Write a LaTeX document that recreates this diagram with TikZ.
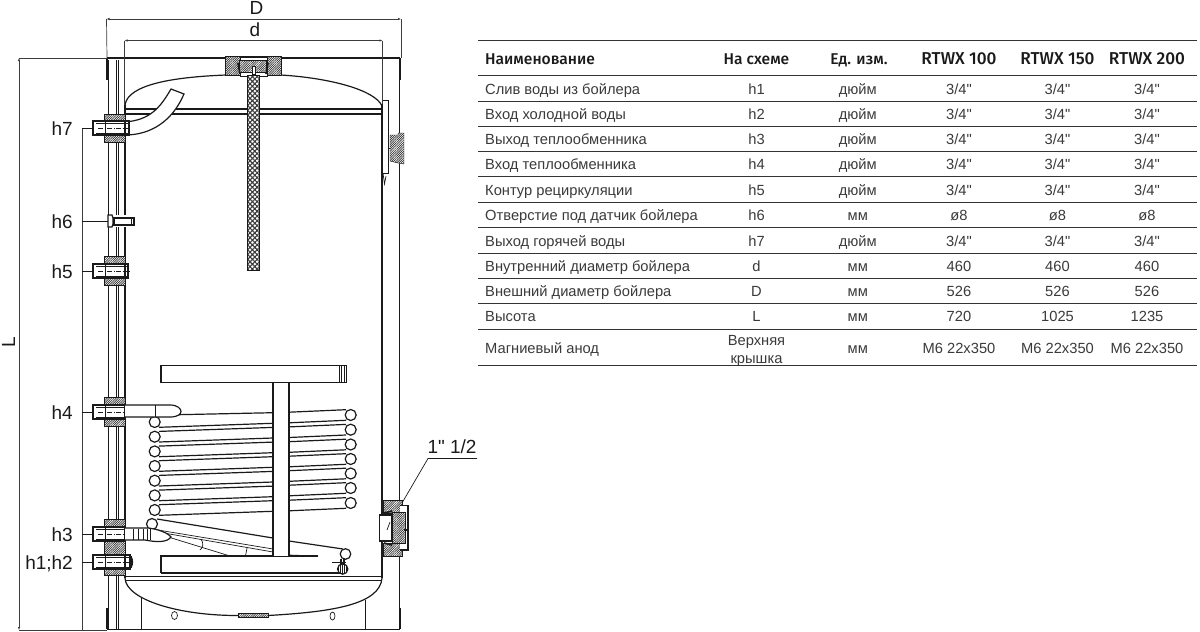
\documentclass[tikz,border=0pt]{standalone}
\usepackage{fontspec}
\newfontfamily\plainfont{Liberation Sans}
\setmainfont{Liberation Sans}
\newfontfamily\headfont{Fira Sans}[UprightFont=* Medium]
\usetikzlibrary{patterns.meta,arrows.meta}
\definecolor{ink}{HTML}{1A1A1A}
\definecolor{tabtext}{HTML}{3A3A3A}
\definecolor{rulecol}{HTML}{333333}
\tikzset{
  thinl/.style={draw=ink,line width=0.7pt},
  medl/.style={draw=ink,line width=1.2pt},
  thickl/.style={draw=ink,line width=1.7pt},
  hatchblock/.style={draw=ink,line width=0.4pt,preaction={fill=white},pattern={Lines[angle=45,distance=1.6pt,line width=0.7pt]},pattern color=ink!90},
  meshblock/.style={draw=ink,line width=0.7pt,preaction={fill=white},pattern={Hatch[angle=45,distance=3.4pt,line width=1.1pt]},pattern color=ink!85},
  whitefill/.style={fill=white,draw=ink,line width=0.9pt},
  dimline/.style={draw=ink!85,line width=0.7pt},
  dimarrow/.style={dimline,{Latex[length=3pt,width=2.4pt]}-{Latex[length=3pt,width=2.4pt]}},
  center line/.style={draw=ink,line width=0.4pt,dash pattern=on 5pt off 1.5pt on 1pt off 1.5pt},
  hlabel/.style={font=\plainfont\fontsize{19}{22}\selectfont,text=ink,anchor=base east,inner sep=0pt},
  dimlabel/.style={font=\plainfont\fontsize{19}{22}\selectfont,text=ink,inner sep=0pt},
  cell/.style={font=\plainfont\fontsize{14.7}{18}\selectfont,text=tabtext,inner sep=0pt,anchor=base},
  namecell/.style={cell,anchor=base west},
  headcell/.style={font=\headfont\fontsize{15.6}{18}\selectfont,text=ink,inner sep=0pt,anchor=base},
  modelcell/.style={font=\headfont\fontsize{17.2}{18}\selectfont,text=ink,inner sep=0pt,anchor=base},
  tabrule/.style={draw=rulecol,line width=1pt}
}
% #1 centre y, #2 top of block, #3 bottom of block, #4 right end of nipple
\newcommand{\fittingdraw}[4]{
  \fill[white] (104,#2) rectangle (126,#3);
  \draw[hatchblock] (104.5,#2) rectangle (125,#1-7);
  \draw[hatchblock] (104.5,#1+7) rectangle (125,#3);
  \draw[medl,fill=white] (105,#1-7) rectangle (#4,#1+7);
  \draw[thickl,fill=white] (105,#1-7) -- (93,#1-7) -- (93,#1+7) -- (105,#1+7);
  \draw[thinl] (96,#1-5) -- (#4,#1-5) (96,#1+5) -- (#4,#1+5);
  \draw[thickl] (125,#1-7) -- (125,#1+7);
  \draw[center line] (98,#1) -- (#4+2,#1);
}
\newcommand{\trow}[9]{
  \node[namecell] (n#1) at (485,#2+5) {#3};
  \node[cell] (s#1) at (756.5,#2+5) {#4};
  \node[cell] (u#1) at (857.8,#2+5) {#5};
  \node[cell] (a#1) at (959,#2+5) {#6};
  \node[cell] (b#1) at (1057.5,#2+5) {#7};
  \node[cell] (c#1) at (1147,#2+5) {#8};
  \draw[tabrule] (478,#9) -- (1197,#9);
}
\begin{document}
\begin{tikzpicture}[x=1pt,y=-1pt]
\useasboundingbox (0,0) rectangle (1200,632);
% ---------- named points
\coordinate (Dl) at (106.5,19); \coordinate (Dr) at (401,19);
\coordinate (dl) at (124.5,40.5); \coordinate (dr) at (382.5,40.5);
\coordinate (Lt) at (19,58); \coordinate (Lb) at (19,630);
\coordinate (bl) at (107,58); \coordinate (br) at (107,630);
\coordinate (hv) at (82.5,128); \coordinate (hb) at (82.5,630);
% ---------- shell
\draw[thinl] (108,60) -- (108,629);
\draw[thinl] (116,60) -- (116,629);
\draw[medl] (118.5,60) -- (118.5,629);
\draw[thickl] (125,105) -- (125,578);
\draw[thinl] (399,60) -- (399,629);
\draw[thickl] (107.3,58) -- (107.3,80);
\draw[thickl] (400,58) -- (400,80);
\draw[thickl] (107.3,608) -- (107.3,629);
\draw[thickl] (400,608) -- (400,629);
\draw[thickl] (107,58) -- (225,58) (281,58) -- (400,58);
\draw[medl] (107,629.3) -- (400,629.3);
\draw[medl] (382,104) -- (382,578);
% top dome
\draw[medl] (125,105) .. controls (128,84) and (175,77) .. (226,75);
\draw[medl] (281,75) .. controls (330,78) and (375,90) .. (382,106);
% top bands
\draw[medl] (125,109) -- (382,109);
\draw[medl] (125,114) -- (382,114);
% bottom bands and dome
\draw[medl] (125,576.5) -- (382,576.5);
\draw[thinl] (125,580) -- (382,580);
\draw[medl] (125,578) .. controls (126,600) and (180,616) .. (240,615.5);
\draw[medl] (268,615.5) .. controls (330,612) and (380,605) .. (382,578);
\draw[thinl] (141.5,598) -- (141.5,629);
\draw[thinl] (365,600) -- (365,629);
\draw[thinl] (174.5,615.5) ellipse (3 and 4);
\draw[thinl] (332.5,616) ellipse (2.5 and 4);
\draw[hatchblock] (238,613) rectangle (268,617.5);
% ---------- top flange and anode
\draw[hatchblock] (225,56) rectangle (281.5,75);
\draw[whitefill,line width=0.6pt] (240,57) rectangle (267,76.5);
\draw[hatchblock] (239.5,60) rectangle (266,72);
\draw[thickl] (238,63) -- (240,74) (268,63) -- (266,74);
\draw[meshblock] (247.3,75) rectangle (259.3,270);
\draw[fill=white,draw=ink,line width=0.6pt] (252,66) rectangle (255,74);
% ---------- sensor sleeve, right
\draw[whitefill] (382.7,100) rectangle (388,173);
\draw[thinl] (383,173) -- (384.5,184) -- (386,176);
\draw[hatchblock] (390,135) -- (398,135) -- (398,133) -- (404,133) -- (404,164) -- (398,163) -- (390,161) -- cycle;
\draw[thinl] (388,148) -- (390,148);
% ---------- hot water pipe
\path[fill=white,draw=none] (125,122) .. controls (150,120) and (160,108) .. (171,89) -- (184,94) .. controls (172,122) and (150,135) .. (125,135) -- cycle;
\draw[medl] (125,122) .. controls (150,120) and (160,108) .. (171,89) -- (184,94) .. controls (172,122) and (150,135) .. (125,135);
% ---------- fittings
\fittingdraw{128}{114}{142.5}{129}
\fittingdraw{271}{256}{285}{128}
\fittingdraw{412}{397}{426}{125}
\fittingdraw{534}{519}{548}{125}
\fittingdraw{562}{541}{575}{130}
\draw[medl] (128,555) .. controls (134,555) and (134,569) .. (128,569);
\draw[thinl] (131,556) -- (131,568);
% h6 sensor stud
\fill[white] (108,215) rectangle (126,227);
\draw[medl,fill=white] (108,215) -- (112,215) -- (113,218) -- (113,224) -- (112,227) -- (108,227) -- cycle;
\draw[medl,fill=white] (114,218) rectangle (134,225);
\draw[thinl] (131,218) -- (131,225);
% ---------- exchanger: plates and column
\draw[medl,fill=white] (161,365.5) rectangle (346.5,382.5);
\draw[thinl] (339,365.5) -- (339,382.5) (341.5,365.5) -- (341.5,382.5) (344,365.5) -- (344,382.5);
\draw[medl] (161,573) -- (161,556) -- (318,556);
\draw[medl] (161,573) -- (340,573);
% coils
\foreach \yl/\yr [count=\i] in {422/415,436.7/429.7,451.4/444.5,466/459,480.7/473.5,495.4/488,510/503}{
  \ifnum\i>1
    \draw[medl] (159,\yl-5.3) -- (273,\yl-9.3);
  \else
    \draw[medl] (178,414.7) -- (273,412.7);
  \fi
  \draw[medl] (159,\yl+5.3) -- (273,\yl+1.3);
  \draw[medl] (289,\yr-2.8) -- (346,\yr-5.3);
  \draw[medl] (289,\yr+7.8) -- (346,\yr+5.3);
  \draw[medl,fill=white] (154.7,\yl) circle (5.5);
  \draw[medl,fill=white] (350.7,\yr) circle (5.5);
}
% lower return tube
\draw[medl] (157,519) -- (273,538);
\draw[medl] (289,541) -- (343,549);
\draw[thinl] (158,530) -- (273,549) (158,532) -- (273,552);
\draw[thinl] (165,536) -- (230,556);
\draw[thinl] (289,555) -- (318,556);
\draw[thinl] (201,539) .. controls (204,543) and (203,548) .. (200,550);
\draw[thinl] (247,548) -- (245.5,556);
\draw[medl,fill=white] (152,524) circle (5.5);
\draw[medl,fill=white] (345.5,554) circle (5.3);
\draw[medl,preaction={fill=white},pattern={Lines[angle=90,distance=2pt,line width=0.7pt]},pattern color=ink] (342.7,569) circle (5.2);
\draw[thinl] (332,562) -- (346,562);
\draw[medl] (341,559) -- (341,565) (344,559) -- (344,565);
% column on top of the tubes
\fill[white] (273.5,382.5) rectangle (288.5,556);
\draw[medl] (273,382.5) -- (273,556);
\draw[medl] (289,382.5) -- (289,556);
% ---------- exchanger pipes
\draw[medl,fill=white] (125,405) -- (170,405) .. controls (178,405) and (181,409) .. (181,411.5) .. controls (181,414) and (178,417) .. (170,417) -- (125,417);
\draw[thinl] (155,405) -- (155,417);
\draw[medl,fill=white] (125,528) -- (148,528) .. controls (158,529) and (168,533) .. (171,537) .. controls (167,543) and (155,542) .. (145,540) -- (125,540);
\foreach \xr in {133,138,143,147,150}{\draw[thinl] (\xr,528.5) -- (\xr,540);}
% ---------- lower right fitting
\draw[hatchblock] (382.7,500) rectangle (402,513);
\draw[hatchblock] (382.7,543) rectangle (402,556);
\draw[thickl,fill=white] (400,505.5) -- (408,505.5) -- (408,550) -- (400,550);
\draw[hatchblock] (392,512) rectangle (405,543);
\draw[medl,fill=white] (379.5,515) rectangle (392,541);
\draw[thickl] (384,513) -- (392,511) (384,543) -- (392,545);
\draw[thinl] (387,530) -- (390,522);
\draw[thickl] (404,530) -- (407,530);
% ---------- dimensions
\draw[dimarrow] (Dl) -- (Dr);
\draw[dimline] (Dl) -- (bl);
\draw[dimline] (Dr) -- (401,58);
\draw[dimarrow] (dl) -- (dr);
\draw[dimline] (dl) -- (124.5,105);
\draw[dimline] (dr) -- (382.5,104);
\draw[dimarrow] (Lt) -- (Lb);
\draw[dimline] (Lt) -- (bl);
\draw[dimline] (Lb) -- (br);
\draw[dimline] (hv) -- (hb);
\node[dimlabel] (labD) at (256.5,8) {D};
\node[dimlabel] (labd) at (255,30) {d};
\node[dimlabel,rotate=90] (labL) at (8.5,342) {L};
% ---------- h labels and leaders
\foreach \nm/\txt/\yy/\xe in {h7/h7/128/93,h6/h6/221/108,h5/h5/271/93,h4/h4/412/93,h3/h3/534/93,hh/{h1;h2}/562/93}{
  \node[hlabel] (lab\nm) at (73,\yy+7) {\txt};
  \coordinate (lead\nm) at (82,\yy);
  \coordinate (tip\nm) at (\xe,\yy);
  \draw[thinl] (lead\nm) -- (tip\nm);
}
% ---------- 1" 1/2 leader
\node[dimlabel] (lab12) at (452,447) {1" 1/2};
\coordinate (l12a) at (477,458.5);
\coordinate (l12b) at (428,458.5);
\coordinate (l12c) at (402,503);
\draw[thinl] (l12a) -- (l12b) -- (l12c);
% ---------- table
\draw[tabrule] (478,40) -- (1197,40);
\node[headcell,anchor=base west] (h0) at (485,64.5) {Наименование};
\node[headcell] (h1) at (756.5,64.5) {На схеме};
\node[headcell] (h2) at (859,64.5) {Ед. изм.};
\node[modelcell] (h3) at (959,64.5) {RTWX 100};
\node[modelcell] (h4) at (1057.5,64.5) {RTWX 150};
\node[modelcell] (h5) at (1147,64.5) {RTWX 200};
\draw[tabrule] (478,75.7) -- (1197,75.7);
\trow{1}{89}{Слив воды из бойлера}{h1}{дюйм}{3/4"}{3/4"}{3/4"}{101}
\trow{2}{114}{Вход холодной воды}{h2}{дюйм}{3/4"}{3/4"}{3/4"}{126.3}
\trow{3}{139.5}{Выход теплообменника}{h3}{дюйм}{3/4"}{3/4"}{3/4"}{151.7}
\trow{4}{164.5}{Вход теплообменника}{h4}{дюйм}{3/4"}{3/4"}{3/4"}{176.7}
\trow{5}{190}{Контур рециркуляции}{h5}{дюйм}{3/4"}{3/4"}{3/4"}{202.3}
\trow{6}{215}{Отверстие под датчик бойлера}{h6}{мм}{ø8}{ø8}{ø8}{227.7}
\trow{7}{241}{Выход горячей воды}{h7}{дюйм}{3/4"}{3/4"}{3/4"}{253}
\trow{8}{266}{Внутренний диаметр бойлера}{d}{мм}{460}{460}{460}{278.3}
\trow{9}{291}{Внешний диаметр бойлера}{D}{мм}{526}{526}{526}{303.7}
\trow{10}{316.5}{Высота}{L}{мм}{720}{1025}{1235}{329}
\trow{11}{348}{Магниевый анод}{\raisebox{-1pt}{\begin{tabular}{@{}c@{}}Верхняя\\[0pt]крышка\end{tabular}}}{мм}{М6 22x350}{М6 22x350}{М6 22x350}{365.7}
\end{tikzpicture}
\end{document}
